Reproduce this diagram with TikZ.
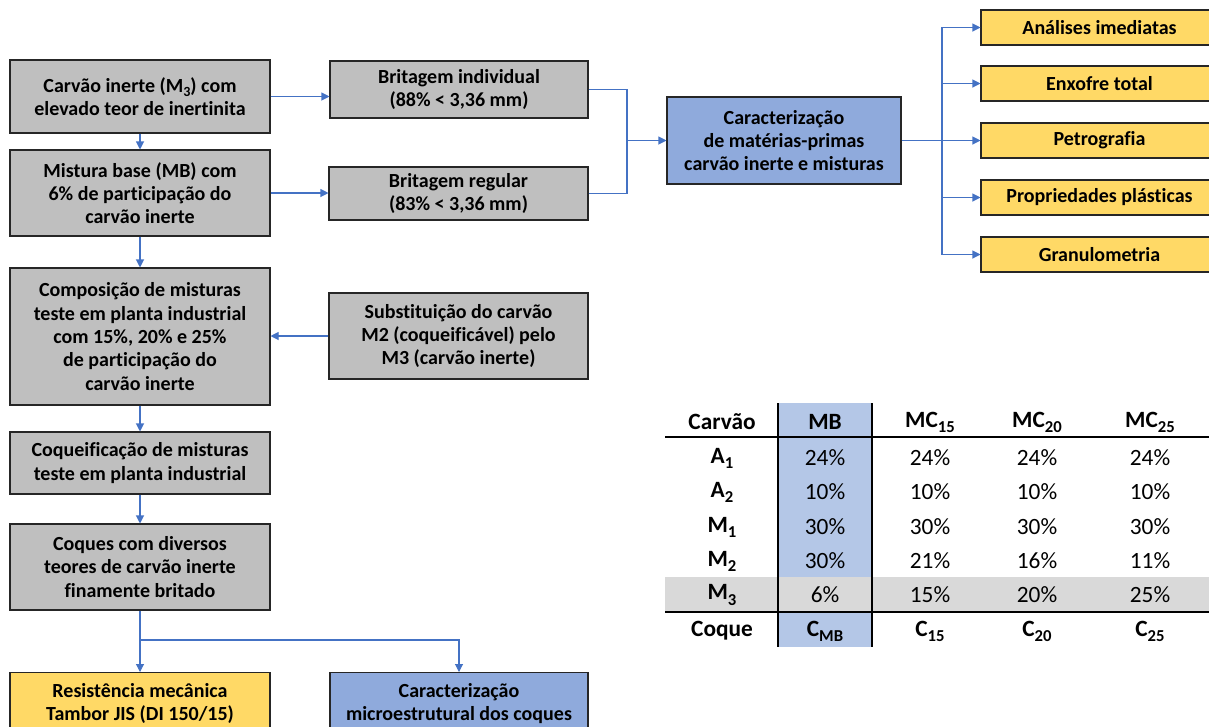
\documentclass[tikz,border=0pt]{standalone}
\usepackage{fontspec}
\setmainfont{Carlito}[Ligatures=NoCommon]
\usetikzlibrary{arrows.meta,positioning}
\definecolor{boxgray}{HTML}{BFBFBF}
\definecolor{boxblue}{HTML}{8FAADC}
\definecolor{boxyellow}{HTML}{FFD966}
\definecolor{linkblue}{HTML}{4472C4}
\definecolor{cellblue}{HTML}{B4C7E7}
\definecolor{cellgray}{HTML}{D9D9D9}
\newcommand{\lowtxt}[2][10.5]{\raisebox{-0.45ex}{\fontsize{#1}{#1}\selectfont #2}}
\tikzset{
  flowbox/.style={draw=black!85, line width=0.8pt, align=center, inner sep=2pt,
    font=\fontsize{15}{17.5}\selectfont\bfseries},
  graybox/.style={flowbox, fill=boxgray, minimum width=195pt},
  bluebox/.style={flowbox, fill=boxblue},
  yellowbox/.style={flowbox, fill=boxyellow, minimum width=177.75pt, minimum height=26.25pt},
  link/.style={draw=linkblue, line width=0.8pt},
  headcell/.style={font=\fontsize{17.5}{20}\selectfont\bfseries},
  datacell/.style={font=\fontsize{17.5}{20}\selectfont},
}

\begin{document}
\begin{tikzpicture}[x=0.75pt,y=-0.75pt,>={Triangle[length=6pt,width=6pt]}]
\useasboundingbox (0,0) rectangle (1209,726);
\clip (0,0) rectangle (1209,726);

% main column
\node[graybox, minimum height=54.75pt] (carvao) at (140,96.5) {Carvão inerte (M\lowtxt{3}) com\\elevado teor de inertinita};
\node[graybox, minimum height=64.5pt] (mistura) at (140,193) {Mistura base (MB) com\\6\% de participação do\\carvão inerte};
\node[graybox, minimum height=102.75pt] (composicao) at (140,336.5) {Composição de misturas\\teste em planta industrial\\com 15\%, 20\% e 25\%\\de participação do\\carvão inerte};
\node[graybox, minimum height=46.5pt] (coqueif) at (140,463) {Coqueificação de misturas\\teste em planta industrial};
\node[graybox, minimum height=64.5pt] (coques) at (140,567) {Coques com diversos\\teores de carvão inerte\\finamente britado};
\node[flowbox, fill=boxyellow, minimum width=195pt, minimum height=46.5pt, anchor=north] (resist) at (140,672) {Resistência mecânica\\Tambor JIS (DI 150/15)};

% second column
\node[graybox, minimum width=193.5pt, minimum height=42.75pt] (britind) at (459,89.5) {Britagem individual\\(88\% < 3,36 mm)};
\node[graybox, minimum width=194.25pt, minimum height=39.75pt] (britreg) at (458.5,193.5) {Britagem regular\\(83\% < 3,36 mm)};
\node[graybox, minimum width=194.25pt, minimum height=64.5pt] (subst) at (458.5,336) {Substituição do carvão\\M2 (coqueificável) pelo\\M3 (carvão inerte)};
\node[bluebox, minimum width=193.5pt, minimum height=46.5pt, anchor=north] (micro) at (459,672) {Caracterização\\microestrutural dos coques};

% characterisation
\node[bluebox, minimum width=175.5pt, minimum height=65.25pt] (caract) at (784,140.5) {Caracterização\\de matérias-primas\\carvão inerte e misturas};
\node[yellowbox] (ana) at (1099.5,27.5) {Análises imediatas};
\node[yellowbox] (enx) at (1099.5,83.5) {Enxofre total};
\node[yellowbox] (pet) at (1099.5,140.5) {Petrografia};
\node[yellowbox] (pro) at (1099.5,197.5) {Propriedades plásticas};
\node[yellowbox] (gra) at (1099.5,254.5) {Granulometria};

\coordinate (join) at (627,140.5);
\coordinate (split) at (942,140.5);
\coordinate (fork) at (140,640);

% connectors
\draw[link,->] (carvao.east) -- (carvao.east -| britind.west);
\draw[link,->] (mistura.east) -- (mistura.east -| britreg.west);
\draw[link,->] (britind.east) -| (join) -- (caract.west);
\draw[link] (britreg.east) -| (join);
\draw[link] (caract.east) -- (split);
\foreach \y in {ana,enx,pet,pro,gra}
  \draw[link,->] (split) |- (\y.west);
\draw[link,->] (subst.west) -- (subst.west -| composicao.east);
\draw[link,->] (carvao) -- (mistura);
\draw[link,->] (mistura) -- (composicao);
\draw[link,->] (composicao) -- (coqueif);
\draw[link,->] (coqueif) -- (coques);
\draw[link,->] (coques) -- (resist);
\draw[link,->] (fork) -| (micro.north);

% table
\fill[cellblue] (778,403) rectangle (872,647);
\fill[cellgray] (665,577) rectangle (1209,612);
\draw[line width=1.2pt] (665,437) -- (1209,437);
\draw[line width=1.2pt] (665,612) -- (1209,612);
\draw[line width=1.2pt] (778,403) -- (778,647);
\draw[line width=1.2pt] (872,403) -- (872,647);

\node[headcell] (h0) at (722,422) {Carvão};
\node[headcell] (h1) at (825,422) {MB};
\node[headcell] (h2) at (930,422) {MC\lowtxt[12.5]{15}};
\node[headcell] (h3) at (1037,422) {MC\lowtxt[12.5]{20}};
\node[headcell] (h4) at (1150,422) {MC\lowtxt[12.5]{25}};
\foreach \lbl/\a/\b/\c/\d/\yy [count=\r] in
  {A\lowtxt[12.5]{1}/24/24/24/24/458, A\lowtxt[12.5]{2}/10/10/10/10/492, M\lowtxt[12.5]{1}/30/30/30/30/527,
   M\lowtxt[12.5]{2}/30/21/16/11/561, M\lowtxt[12.5]{3}/6/15/20/25/595}{
  \node[headcell] (r\r c0) at (722,\yy) {\lbl};
  \node[datacell] (r\r c1) at (825,\yy) {\a\%};
  \node[datacell] (r\r c2) at (930,\yy) {\b\%};
  \node[datacell] (r\r c3) at (1037,\yy) {\c\%};
  \node[datacell] (r\r c4) at (1150,\yy) {\d\%};
}
\node[headcell] (k0) at (722,631) {Coque};
\node[headcell] (k1) at (825,631) {C\lowtxt[12.5]{MB}};
\node[headcell] (k2) at (930,631) {C\lowtxt[12.5]{15}};
\node[headcell] (k3) at (1037,631) {C\lowtxt[12.5]{20}};
\node[headcell] (k4) at (1150,631) {C\lowtxt[12.5]{25}};
\end{tikzpicture}
\end{document}
